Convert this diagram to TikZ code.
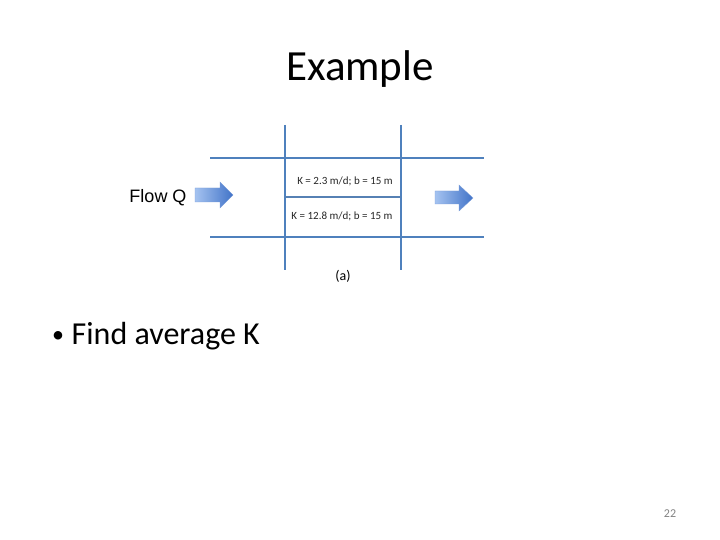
\documentclass[tikz,border=0pt]{standalone}
\usepackage{fontspec}
\setmainfont{Carlito}
\newfontfamily\arialfont{Liberation Sans}
\definecolor{gridblue}{RGB}{79,129,189}
\definecolor{arrowlight}{RGB}{165,195,240}
\definecolor{arrowdark}{RGB}{65,115,200}
\definecolor{pagegray}{RGB}{130,130,130}
\begin{document}
\begin{tikzpicture}[x=1pt,y=-1pt,
  gridline/.style={draw=gridblue,line width=2.8pt},
  thinline/.style={draw=gridblue!85!gray,line width=2pt},
  flowarrow/.style={left color=arrowlight,right color=arrowdark,draw=arrowdark!70,line width=0.3pt},
  celltext/.style={font=\fontsize{11}{13}\selectfont,text=black!85,inner sep=0pt}]
\useasboundingbox (0,0) rectangle (720,540);
\fill[white] (0,0) rectangle (720,540);
% title
\node[font=\fontsize{43}{48}\selectfont,anchor=base] (title) at (360,81) {Example};
% grid lines
\draw[gridline] (285,125) -- (285,270);
\draw[gridline] (401,125) -- (401,270);
\draw[gridline] (210,158) -- (484,158);
\draw[gridline] (210,237) -- (484,237);
\draw[thinline] (285,197) -- (401,197);
% cell texts
\node[celltext] (k1) at (345,181) {K = 2.3 m/d; b = 15 m};
\node[celltext] (k2) at (342,216) {K = 12.8 m/d; b = 15 m};
\node[font=\fontsize{14}{16}\selectfont,inner sep=0pt] (lbl) at (343,276) {(a)};
% flow label
\node[font=\arialfont\fontsize{18}{20}\selectfont,inner sep=0pt] (flow) at (158,198) {Flow Q};
% arrows
\path[flowarrow] (195,188) -- (220,188) -- (220,182) -- (233,195) -- (220,208) -- (220,202) -- (195,202) -- cycle;
\path[flowarrow] (435,191) -- (459,191) -- (459,185) -- (473,198) -- (459,211) -- (459,204) -- (435,204) -- cycle;
% bullet
\node[font=\fontsize{32}{36}\selectfont,anchor=base west,inner sep=0pt] (bullettext) at (71.5,344) {Find average K};
\node[font=\fontsize{24}{28}\selectfont,anchor=base west,inner sep=0pt] (bulletmark) at (52,342) {•};
% page number
\node[font=\fontsize{12}{14}\selectfont,text=pagegray,inner sep=0pt] (page) at (670,514) {22};
\end{tikzpicture}
\end{document}
